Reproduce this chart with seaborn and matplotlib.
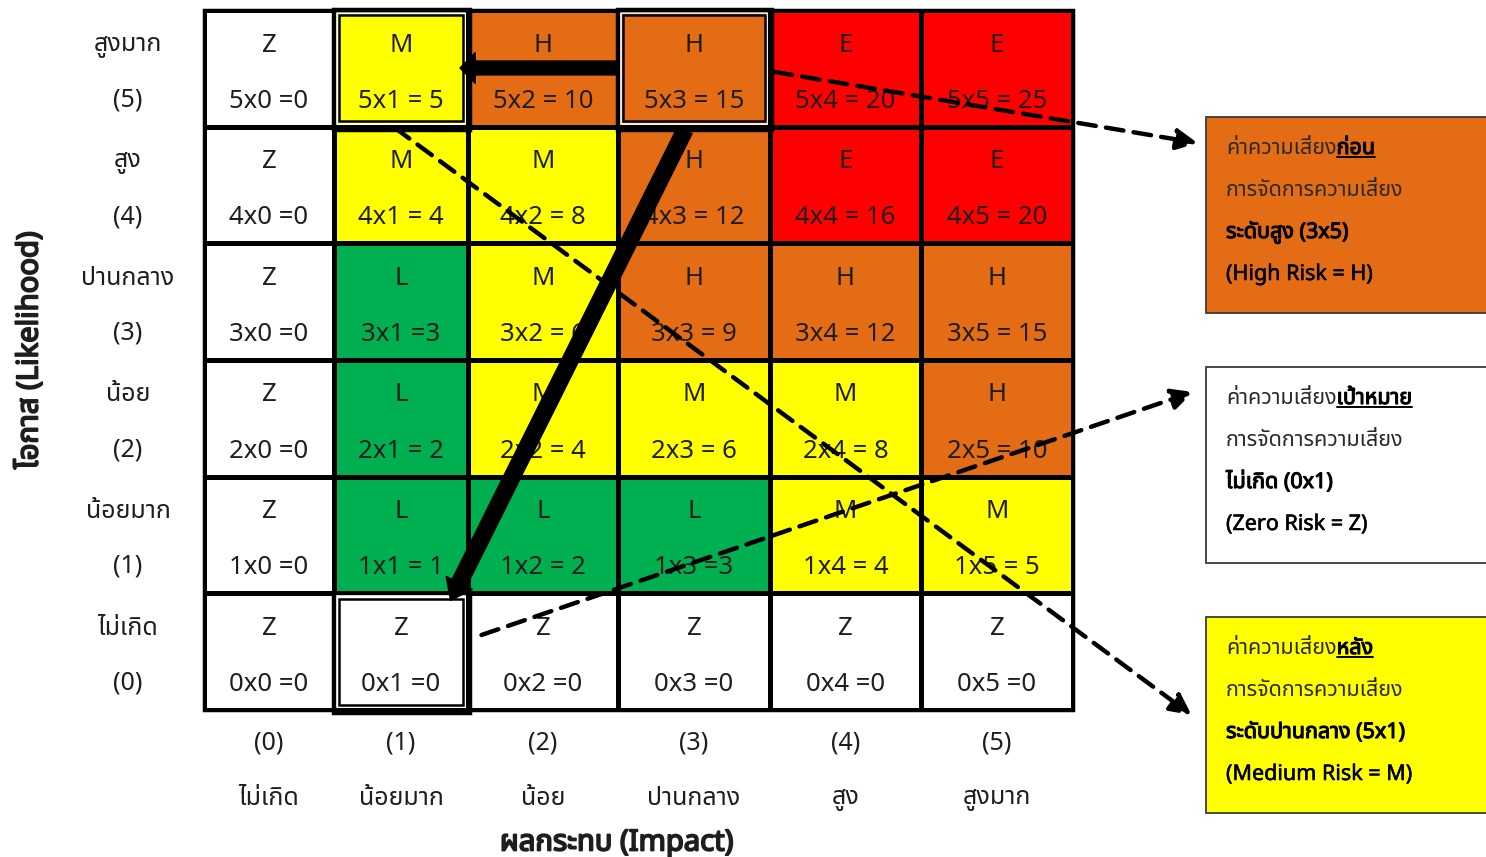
import numpy as np
import pandas as pd
import matplotlib
matplotlib.use("Agg")
import matplotlib.pyplot as plt
import matplotlib.patheffects as pe
import seaborn as sns
from matplotlib import font_manager as fm
from matplotlib.ft2font import FT2Font
from matplotlib.colors import ListedColormap
from matplotlib.patches import Rectangle
from matplotlib.lines import Line2D

# ---------------- data ----------------
likelihood_names = ["สูงมาก", "สูง", "ปานกลาง", "น้อย", "น้อยมาก", "ไม่เกิด"]
likelihood_codes = ["(5)", "(4)", "(3)", "(2)", "(1)", "(0)"]
impact_codes = ["(0)", "(1)", "(2)", "(3)", "(4)", "(5)"]
impact_names = ["ไม่เกิด", "น้อยมาก", "น้อย", "ปานกลาง", "สูง", "สูงมาก"]

level_grid = [
    ["Z", "M", "H", "H", "E", "E"],
    ["Z", "M", "M", "H", "E", "E"],
    ["Z", "L", "M", "H", "H", "H"],
    ["Z", "L", "M", "M", "M", "H"],
    ["Z", "L", "L", "L", "M", "M"],
    ["Z", "Z", "Z", "Z", "Z", "Z"],
]
score_text = [
    ["5x0 =0", "5x1 = 5", "5x2 = 10", "5x3 = 15", "5x4 = 20", "5x5 = 25"],
    ["4x0 =0", "4x1 = 4", "4x2 = 8", "4x3 = 12", "4x4 = 16", "4x5 = 20"],
    ["3x0 =0", "3x1 =3", "3x2 = 6", "3x3 = 9", "3x4 = 12", "3x5 = 15"],
    ["2x0 =0", "2x1 = 2", "2x2 = 4", "2x3 = 6", "2x4 = 8", "2x5 = 10"],
    ["1x0 =0", "1x1 = 1", "1x2 = 2", "1x3 =3", "1x4 = 4", "1x5 = 5"],
    ["0x0 =0", "0x1 =0", "0x2 =0", "0x3 =0", "0x4 =0", "0x5 =0"],
]
level_order = ["Z", "L", "M", "H", "E"]
level_colors = ["#FFFFFF", "#00B050", "#FFFF00", "#E46C15", "#FF0000"]

# highlighted cells (row, col) in grid
highlight_cells = [(0, 1), (0, 3), (5, 1)]

# legend boxes: (prefix, emphasised word, line2, line3, line4, face colour)
box_texts = [
    ("ค่าความเสี่ยง", "ก่อน", "การจัดการความเสี่ยง", "ระดับสูง (3x5)", "(High Risk = H)", "#E46C15"),
    ("ค่าความเสี่ยง", "เป้าหมาย", "การจัดการความเสี่ยง", "ไม่เกิด (0x1)", "(Zero Risk = Z)", "#FFFFFF"),
    ("ค่าความเสี่ยง", "หลัง", "การจัดการความเสี่ยง", "ระดับปานกลาง (5x1)", "(Medium Risk = M)", "#FFFF00"),
]

y_title = "โอกาส (Likelihood)"
x_title = "ผลกระทบ (Impact)"

# ---------------- fonts ----------------
def find_thai_font():
    preferred = ["Noto Sans Thai", "Noto Sans Thai UI", "Leelawadee UI", "Tahoma", "Loma",
                 "Garuda", "Sarabun", "Waree", "Umpush", "Tlwg Typo", "Kinnari", "Norasi"]
    names = {f.name for f in fm.fontManager.ttflist}
    for p in preferred:
        if p in names:
            return p
    for f in fm.fontManager.ttflist:
        try:
            if 0x0E01 in FT2Font(f.fname).get_charmap():
                return f.name
        except Exception:
            continue
    return None

sns.set_theme(style="white")
thai = find_thai_font()
families = ([thai] if thai else []) + ["DejaVu Sans"]
plt.rcParams["font.family"] = families
names_avail = {f.name for f in fm.fontManager.ttflist}
cell_family = ["Liberation Sans Narrow"] if "Liberation Sans Narrow" in names_avail else families


def bold(color, w=1.0):
    return [pe.withStroke(linewidth=w, foreground=color)]


W, H = 1486, 857
fig = plt.figure(figsize=(W / 100, H / 100), dpi=100)
ax = fig.add_axes([204 / W, 1 - 710 / H, 869 / W, 700 / H])

codes = [[level_order.index(v) for v in row] for row in level_grid]
df = pd.DataFrame(codes, index=likelihood_codes, columns=impact_codes)
sns.heatmap(df, cmap=ListedColormap(level_colors), vmin=-0.5, vmax=4.5, cbar=False,
            linewidths=2.2, linecolor="black", xticklabels=False, yticklabels=False, ax=ax)

# uneven column widths (layout): piecewise-linear x scale
col_edges_px = np.array([0, 130, 264, 414, 566, 717, 869], float)
_d = np.r_[-20.0, np.arange(7.0), 26.0]
_p = np.r_[-20 * 130.0, col_edges_px, 869 + 20 * 152.0]
ax.set_xscale("function", functions=(lambda x: np.interp(x, _d, _p),
                                     lambda p: np.interp(p, _p, _d)))
ax.set_xlim(0, 6)
ax.set_xlabel("")
ax.set_ylabel("")
ax.set_xticks([])
ax.set_yticks([])
ax.add_patch(Rectangle((0, 0), 6, 6, fill=False, lw=2.5, ec="black", clip_on=False, zorder=5))

txt_col = "#1e1e1e"
for r in range(6):
    for c in range(6):
        ax.text(c + 0.5, r + 0.30, level_grid[r][c], ha="center", va="center",
                fontsize=18.5, color=txt_col, family=cell_family, zorder=3)
        ax.text(c + 0.5, r + 0.78, score_text[r][c], ha="center", va="center",
                fontsize=18.5, color=txt_col, family=cell_family, zorder=3)

# double borders
for (r, c) in highlight_cells:
    ax.add_patch(Rectangle((c - 0.005, r - 0.005), 1.02, 1.03, fill=False, lw=2.5, ec="black",
                           clip_on=False, zorder=4))
    ax.add_patch(Rectangle((c + 0.02, r + 0.025), 0.96, 0.95, fill=False, lw=1.2, ec="white",
                           clip_on=False, zorder=4))
    ax.add_patch(Rectangle((c + 0.035, r + 0.045), 0.93, 0.91, fill=False, lw=1.8, ec="black",
                           clip_on=False, zorder=4))

# row labels
for r in range(6):
    ax.text(-0.585, r + 0.30, likelihood_names[r], ha="center", va="center", fontsize=18,
            color=txt_col, clip_on=False)
    ax.text(-0.585, r + 0.77, likelihood_codes[r], ha="center", va="center", fontsize=18,
            color=txt_col, clip_on=False)
# column labels
for c in range(6):
    ax.text(c + 0.5, 6.28, impact_codes[c], ha="center", va="center", fontsize=18,
            color=txt_col, family=cell_family, clip_on=False)
    ax.text(c + 0.5, 6.76, impact_names[c], ha="center", va="center", fontsize=18,
            color=txt_col, clip_on=False)

fig.text(30 / W, 1 - 350 / H, y_title, rotation=90, ha="center", va="center",
         fontsize=21, color=txt_col, path_effects=bold(txt_col, 1.3))
fig.text(617 / W, 1 - 843 / H, x_title, ha="center", va="center",
         fontsize=21, color=txt_col, path_effects=bold(txt_col, 1.3))

# arrows
ax.annotate("", xy=(1.94, 0.497), xytext=(3.0, 0.497), annotation_clip=False,
            arrowprops=dict(arrowstyle="simple,head_length=1.1,head_width=2.2,tail_width=1.0",
                            mutation_scale=10, fc="black", ec="black", shrinkA=0, shrinkB=0),
            zorder=6)
ax.annotate("", xy=(1.87, 5.06), xytext=(3.44, 1.03), annotation_clip=False,
            arrowprops=dict(arrowstyle="simple,head_length=1.4,head_width=2.1,tail_width=1.15",
                            mutation_scale=10, fc="black", ec="black", shrinkA=0, shrinkB=0),
            zorder=6)
dashed = [((4.03, 0.531), (6.82, 1.140)),
          ((1.455, 1.011), (6.78, 6.043)),
          ((2.09, 5.357), (6.79, 3.274))]
for (s, e) in dashed:
    ax.annotate("", xy=e, xytext=s, annotation_clip=False,
                arrowprops=dict(arrowstyle="-|>,head_length=0.9,head_width=0.45", lw=3.2,
                                linestyle=(0, (4, 2.3)), color="black", shrinkA=0, shrinkB=0,
                                mutation_scale=14),
                zorder=6)

# legend boxes
renderer = fig.canvas.get_renderer()
box_tops = [117, 367, 617]
fs_box = 15.5
for (pre, emph, l2, l3, l4, fc), top in zip(box_texts, box_tops):
    fig.add_artist(Rectangle((1206 / W, 1 - (top + 196) / H), 290 / W, 196 / H,
                             transform=fig.transFigure, fc=fc, ec="#3a3a3a", lw=1.3, zorder=1))
    x0 = 1226
    ys = [top + 30, top + 72, top + 114, top + 156]
    base = [y + 7 for y in ys]
    t1 = fig.text(x0 / W, 1 - base[0] / H, pre, fontsize=fs_box, color="#2a2a2a", va="baseline", zorder=2)
    bb = t1.get_window_extent(renderer=renderer)
    t2 = fig.text(bb.x1 / W, 1 - base[0] / H, emph, fontsize=fs_box, color="black",
                  va="baseline", zorder=2, path_effects=bold("black", 0.8))
    bb2 = t2.get_window_extent(renderer=renderer)
    fig.add_artist(Line2D([bb2.x0 / W, bb2.x1 / W], [1 - (base[0] + 3) / H] * 2,
                          transform=fig.transFigure, color="black", lw=1.4, zorder=2))
    fig.text(x0 / W, 1 - base[1] / H, l2, fontsize=fs_box, color="#2a2a2a", va="baseline", zorder=2)
    fig.text(x0 / W, 1 - base[2] / H, l3, fontsize=fs_box, color="black", va="baseline", zorder=2,
             path_effects=bold("black", 0.8))
    fig.text(x0 / W, 1 - base[3] / H, l4, fontsize=fs_box, color="black", va="baseline", zorder=2,
             path_effects=bold("black", 0.4))

fig.savefig("out.png", dpi=100)
